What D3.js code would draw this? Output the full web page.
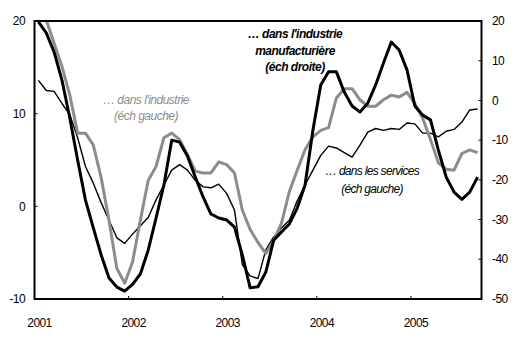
<!DOCTYPE html>
<html><head><meta charset="utf-8">
<script src="https://cdn.jsdelivr.net/npm/d3@7/dist/d3.min.js"></script>
<style>
html,body{margin:0;padding:0;background:#fff;}
text{font-family:"Liberation Sans",Arial,sans-serif;}
</style></head>
<body><svg id="c" width="516" height="338"></svg>
<script>
// Monthly data, Jan 2001 .. Sep 2005
const startYear = 2001;
const industrie = [22.3,20.1,17.6,15.1,12.0,7.9,7.9,6.6,3.1,-1.5,-6.7,-8.3,-6.0,-1.5,2.8,4.3,7.4,7.9,7.2,5.6,3.8,3.6,3.6,4.8,4.5,3.6,-0.4,-2.5,-3.9,-5.1,-3.7,-1.8,1.6,3.9,6.1,7.5,8.2,8.5,11.7,12.7,12.7,11.5,10.8,10.8,11.5,12.0,11.8,12.3,11.1,9.5,7.2,4.7,4.0,3.9,5.7,6.1,5.8];
const services = [13.6,12.5,12.4,11.1,9.9,7.4,4.3,2.5,0.4,-1.5,-3.4,-4.0,-3.0,-2.1,-1.2,0.7,2.3,3.9,4.5,3.9,2.8,2.1,2.0,2.4,1.4,-0.4,-6.3,-7.5,-7.8,-4.7,-3.3,-2.3,-1.5,0.6,2.3,3.9,5.5,6.5,6.3,5.8,5.3,6.6,8.0,8.4,8.2,8.4,8.3,9.0,8.9,7.9,7.9,7.5,8.1,8.3,9.1,10.4,10.5];
const manufacturiere = [19.8,17.0,12.2,5.1,-4.4,-15.0,-25.1,-32.1,-38.9,-44.7,-47.0,-48.0,-46.3,-43.7,-37.7,-29.6,-21.3,-10.0,-10.5,-14.0,-19.3,-24.3,-28.6,-29.6,-30.1,-31.9,-38.9,-47.2,-46.9,-43.2,-35.2,-33.1,-31.1,-27.1,-21.3,-7.5,3.9,7.2,7.2,2.1,-1.4,-2.9,-0.7,3.9,9.4,14.7,12.7,7.7,-1.4,-3.7,-4.9,-12.5,-19.3,-23.1,-24.9,-23.1,-19.3];
const years = [2001,2002,2003,2004,2005];
const leftTicks = [-10,0,10,20];
const rightTicks = [-50,-40,-30,-20,-10,0,10,20];

const svg = d3.select("#c");
const L = 34.5, R = 481.5, T = 21, B = 299;
const x = d3.scaleLinear().domain([2001, 2005.75]).range([L, R]);
const yL = d3.scaleLinear().domain([-10, 20]).range([B, T]);
const yR = d3.scaleLinear().domain([-50, 20]).range([B, T]);
const tx = i => x(startYear + (i + 0.5) / 12);

svg.append("defs").append("clipPath").attr("id","clip")
  .append("rect").attr("x",L).attr("y",T).attr("width",R-L).attr("height",B-T);

const g = svg.append("g").attr("clip-path","url(#clip)");
const lineL = d3.line().x((d,i)=>tx(i)).y(d=>yL(d));
const lineR = d3.line().x((d,i)=>tx(i)).y(d=>yR(d));

g.append("path").datum(services).attr("d",lineL)
  .attr("fill","none").attr("stroke","#000").attr("stroke-width",1.4).attr("stroke-linejoin","round");
g.append("path").datum(industrie).attr("d",lineL)
  .attr("fill","none").attr("stroke","#8c8c8c").attr("stroke-width",3).attr("stroke-linejoin","round");
g.append("path").datum(manufacturiere).attr("d",lineR)
  .attr("fill","none").attr("stroke","#000").attr("stroke-width",3).attr("stroke-linejoin","round");

// frame
svg.append("rect").attr("x",L).attr("y",T).attr("width",R-L).attr("height",B-T)
  .attr("fill","none").attr("stroke","#000").attr("stroke-width",2);

// left ticks
leftTicks.forEach(v=>{
  svg.append("line").attr("x1",L).attr("x2",L+3).attr("y1",yL(v)).attr("y2",yL(v)).attr("stroke","#000").attr("stroke-width",1);
  svg.append("text").attr("x",25).attr("y",yL(v)).attr("dy","0.35em").attr("text-anchor","end")
    .attr("font-size",12).attr("letter-spacing","-0.6").text(v);
});
// right ticks
rightTicks.forEach(v=>{
  svg.append("line").attr("x1",R-3).attr("x2",R).attr("y1",yR(v)).attr("y2",yR(v)).attr("stroke","#000").attr("stroke-width",1);
  svg.append("text").attr("x",492).attr("y",yR(v)).attr("dy","0.35em").attr("text-anchor","start")
    .attr("font-size",12).attr("letter-spacing","-0.6").text(v);
});
// bottom ticks
years.forEach(yv=>{
  svg.append("line").attr("x1",x(yv)).attr("x2",x(yv)).attr("y1",B).attr("y2",B-3).attr("stroke","#000").attr("stroke-width",1);
  svg.append("text").attr("x",x(yv)+5).attr("y",327).attr("text-anchor","middle")
    .attr("font-size",12).attr("letter-spacing","-0.6").text(yv);
});

// annotations
function label(lines, cx, y0, dy, opts){
  const t = svg.append("text").attr("text-anchor","middle").attr("font-size",opts.size||12)
    .attr("font-style","italic").attr("font-weight",opts.weight||"normal")
    .attr("fill",opts.fill||"#000").attr("letter-spacing",opts.ls||"-0.4");
  lines.forEach((s,k)=>t.append("tspan").attr("x",cx).attr("y",y0+k*dy).text(s));
}
label(["… dans l'industrie","(éch gauche)"], 146, 104, 16, {fill:"#8c8c8c", ls:"-0.5"});
label(["… dans l'industrie","manufacturière","(éch droite)"], 295, 38, 16.5, {weight:"bold", ls:"-0.5"});
label(["… dans les services","(éch gauche)"], 372, 175, 18, {ls:"-0.7"});
</script></body></html>
